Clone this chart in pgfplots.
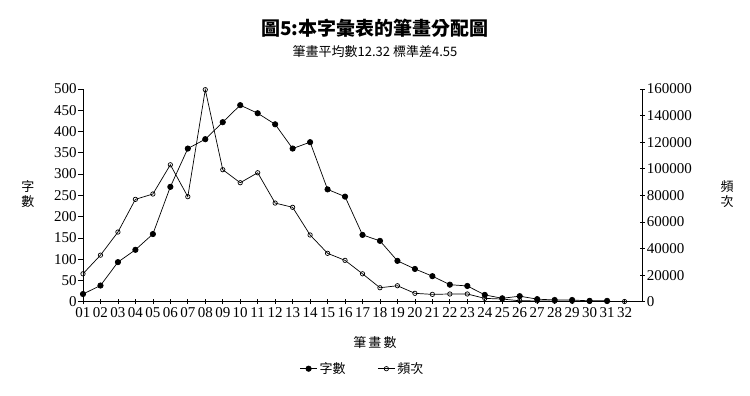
\documentclass[border=0pt]{standalone}
\usepackage{fontspec}
\setmainfont{Liberation Serif}
\newfontfamily\cjk{Noto Sans CJK TC}
\usepackage{pgfplots}
\pgfplotsset{compat=1.18}
\begin{document}
\begin{tikzpicture}[x=1pt,y=1pt]
\path[use as bounding box] (-83,-94.3) rectangle (667,301.7);
\pgfplotsset{
  every axis/.append style={
    scale only axis, width=559pt, height=212.7pt,
    at={(0,0)}, anchor=south west,
    xmin=1, xmax=33, ymin=0,
    /pgf/number format/assume math mode=true,
    /pgf/number format/fixed,
    /pgf/number format/precision=0,
    /pgf/number format/1000 sep={},
    tick label style={font=\fontsize{15}{15}\selectfont},
    line width=0.7pt,
    tick style={black, line width=0.7pt},
    major tick length=5pt,
  }
}
\begin{axis}[
  axis x line=bottom, axis y line=left,
  axis line style={-},
  ymax=500, ytick={0,50,...,500},
  xtick={1,...,32},
  xticklabels={01,02,03,04,05,06,07,08,09,10,11,12,13,14,15,16,17,18,19,20,21,22,23,24,25,26,27,28,29,30,31,32},
  x tick label style={inner xsep=0pt},
  xtick align=center,
  ytick align=outside,
  y tick label style={inner xsep=1pt},
]
\addplot[black, line width=0.7pt, mark=*, mark size=2.7pt, mark options={fill=black}] coordinates {
(1,18)(2,38)(3,93)(4,122)(5,159)(6,270)(7,360)(8,382)(9,422)(10,462)
(11,443)(12,417)(13,360)(14,375)(15,264)(16,247)(17,157)(18,143)(19,96)(20,77)
(21,60)(22,40)(23,37)(24,16)(25,8)(26,13)(27,6)(28,4)(29,4)(30,2)(31,2)};
\end{axis}
\begin{axis}[
  axis x line=none, axis y line=right,
  axis line style={-},
  ymax=160000,
  ytick={0,20000,40000,60000,80000,100000,120000,140000,160000},
  yticklabels={0,20000,40000,60000,80000,100000,120000,140000,160000},
  scaled y ticks=false,
  ytick align=center,
  y tick label style={inner xsep=2pt},
  legend style={at={(0.5,-0.315)}, anchor=center, draw=none, fill=none,
    legend columns=2, font=\cjk\fontsize{13}{13}\selectfont,
    /tikz/every even column/.append style={column sep=30pt}},
  legend cell align=left,
]
\addlegendimage{black, line width=0.7pt, mark=*, mark size=2.7pt, mark options={fill=black}}
\addlegendentry{字數}
\addplot[black, line width=0.7pt, mark=o, mark size=2.2pt, mark options={fill=white}] coordinates {
(1,21000)(2,35000)(3,52400)(4,77000)(5,81000)(6,103000)(7,79000)(8,159500)(9,99300)(10,89500)
(11,97000)(12,74200)(13,71000)(14,50200)(15,36400)(16,31100)(17,21000)(18,10500)(19,12000)(20,6300)
(21,5500)(22,5800)(23,5800)(24,2500)(25,2000)(26,700)(27,600)(28,400)(29,300)(30,200)(31,200)(32,150)};
\addlegendentry{頻次}
\end{axis}
\node[font=\cjk\bfseries\fontsize{19}{19}\selectfont] at (292,273.7) {圖5:本字彙表的筆畫分配圖};
\node[font=\cjk\fontsize{13}{13}\selectfont] at (292,249.7) {筆畫平均數12.32 標準差4.55};
\node[font=\cjk\fontsize{13}{13}\selectfont] at (292,-41) {筆\,畫\,數};
\node[font=\cjk\fontsize{13}{15}\selectfont, align=center] at (-55,107.7) {字\\數};
\node[font=\cjk\fontsize{13}{15}\selectfont, align=center] at (644,107.7) {頻\\次};
\end{tikzpicture}
\end{document}
